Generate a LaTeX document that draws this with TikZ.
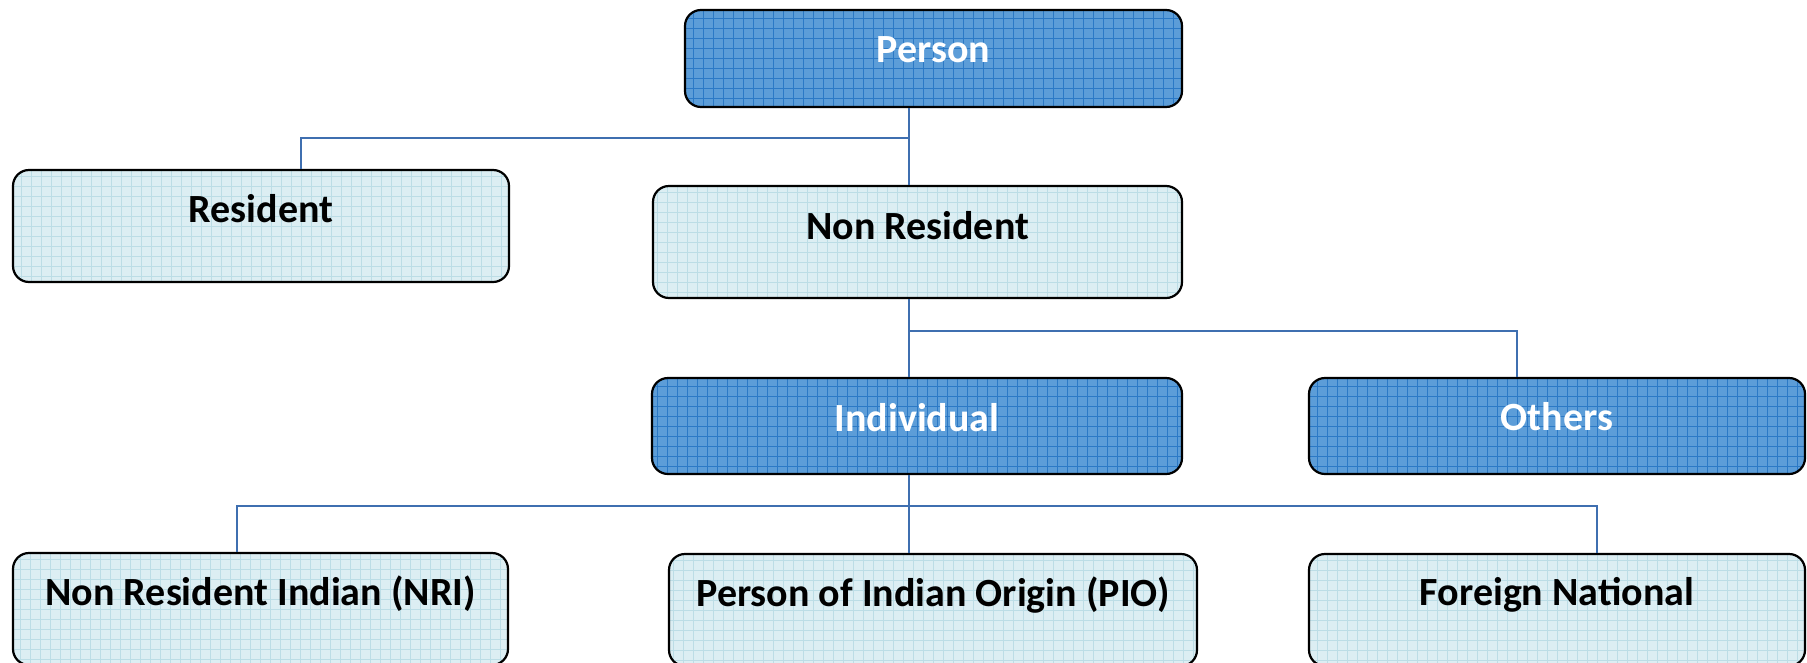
\documentclass[tikz,border=0pt]{standalone}
\usepackage{fontspec}
\setmainfont{Carlito}
\usetikzlibrary{calc}
\definecolor{lightfill}{HTML}{DCEEF3}
\definecolor{lightgrid}{HTML}{BCDDE6}
\definecolor{darkfill}{HTML}{5C9DD8}
\definecolor{darkgrid}{HTML}{2B79C6}
\definecolor{connblue}{HTML}{3F6FB0}
\tikzset{
  gridfill/.style={path picture={\draw[#1, line width=0.7pt, step=10pt]
      (path picture bounding box.south west) grid (path picture bounding box.north east);}},
  boxbase/.style={draw=black, line width=2.2pt, rounded corners=16pt, inner sep=0pt},
  lightbox/.style={boxbase, fill=lightfill, gridfill=lightgrid},
  darkbox/.style={boxbase, fill=darkfill, gridfill=darkgrid},
  lighttext/.style={font=\fontsize{40}{46}\selectfont\bfseries, text=black},
  darktext/.style={font=\fontsize{40}{46}\selectfont\bfseries, text=white},
  conn/.style={draw=connblue, line width=2pt}
}
\begin{document}
\begin{tikzpicture}[x=1pt, y=-1pt]
\useasboundingbox (0,0) rectangle (1807,662);
% boxes
\node[darkbox, minimum width=497, minimum height=97,
  label={[darktext, yshift=8.5pt]center:Person}] (person) at (933.5,58.5) {};
\node[lightbox, minimum width=496, minimum height=112,
  label={[lighttext, yshift=17pt]center:Resident}] (res) at (261,226) {};
\node[lightbox, minimum width=529, minimum height=112,
  label={[lighttext, yshift=16pt]center:Non Resident}] (nonres) at (917.5,242) {};
\node[darkbox, minimum width=530, minimum height=96,
  label={[darktext, yshift=8pt]center:Individual}] (indiv) at (917,426) {};
\node[darkbox, minimum width=496, minimum height=96,
  label={[darktext, yshift=9pt]center:Others}] (others) at (1557,426) {};
\node[lightbox, minimum width=495, minimum height=112,
  label={[lighttext, yshift=15pt]center:Non Resident Indian (NRI)}] (nri) at (260.5,609) {};
\node[lightbox, minimum width=528, minimum height=112,
  label={[lighttext, yshift=15pt]center:Person of Indian Origin (PIO)}] (pio) at (933,610) {};
\node[lightbox, minimum width=496, minimum height=112,
  label={[lighttext, yshift=15pt]center:Foreign National}] (fn) at (1557,610) {};
% bus points
\coordinate (bus1) at (909,138);
\coordinate (bus2) at (909,331);
\coordinate (bus3) at (909,506);
% connectors
\draw[conn] (person.south -| bus1) -- (nonres.north -| bus1);
\draw[conn] (bus1) -| ($(res.north)+(40,0)$);
\draw[conn] (nonres.south -| bus2) -- (indiv.north -| bus2);
\draw[conn] (bus2) -| ($(others.north)+(-40,0)$);
\draw[conn] (indiv.south -| bus3) -- (pio.north -| bus3);
\draw[conn] (bus3) -| ($(nri.north)+(-23.5,0)$);
\draw[conn] (bus3) -| ($(fn.north)+(40,0)$);
\end{tikzpicture}
\end{document}
